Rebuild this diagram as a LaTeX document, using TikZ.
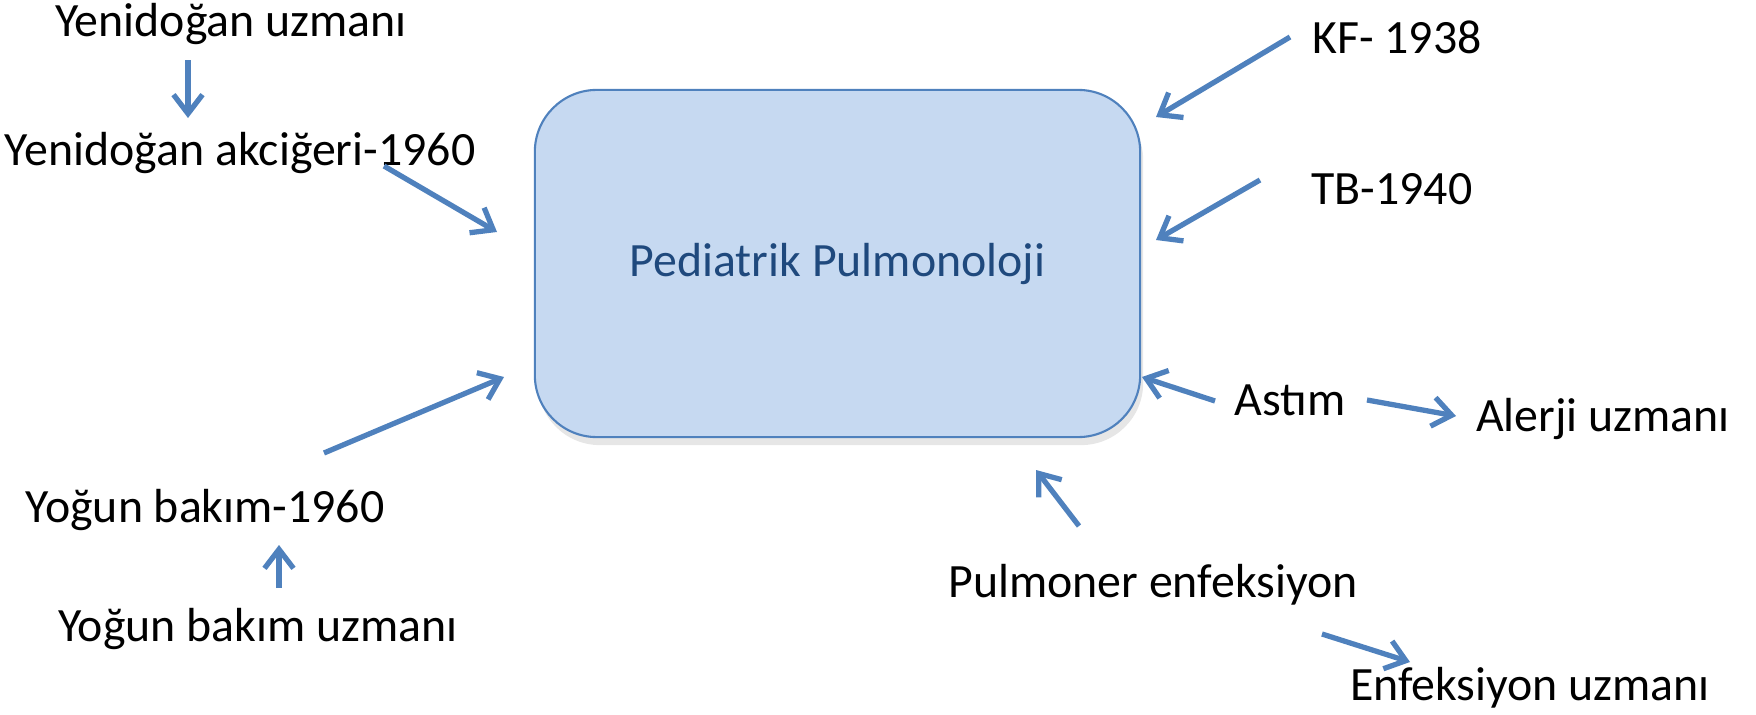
\documentclass[tikz,border=0pt]{standalone}
\usepackage{fontspec}
\setmainfont{Carlito}
\usetikzlibrary{arrows.meta,shadows}

\definecolor{arrowblue}{HTML}{4F81BD}
\definecolor{boxfill}{HTML}{C6D9F1}
\definecolor{boxtext}{HTML}{1F497D}

\begin{document}
\begin{tikzpicture}[x=0.01cm,y=-0.01cm,auto,>={Straight Barb[length=1.9mm,width=2.9mm]}]
\tikzstyle{txt} = [anchor=base, inner sep=0pt, font=\fontsize{13.6}{16}\selectfont]
\tikzstyle{block} = [rectangle, draw=arrowblue, line width=0.6pt, fill=boxfill,
text=boxtext, font=\fontsize{13.6}{16}\selectfont, text height=0.9em, text depth=0.15em,
minimum width=6.05cm, minimum height=3.47cm, rounded corners=0.62cm, inner sep=0pt,
drop shadow={opacity=0.2,shadow xshift=0.3mm,shadow yshift=-0.8mm}]
\tikzstyle{line} = [draw, arrowblue, line width=1.5pt, ->]

\useasboundingbox (0,0) rectangle (1756,715);

% centre
\node [block] (ped) at (837.5,263.5) {Pediatrik Pulmonoloji};
% left side
\node [txt] (yenuz) at (231,37) {Yenidoğan uzmanı};
\node [txt] (yenak) at (240,165) {Yenidoğan akciğeri-1960};
\node [txt] (yogbk) at (205,522) {Yoğun bakım-1960};
\node [txt] (yoguz) at (258,641) {Yoğun bakım uzmanı};
% right side
\node [txt] (kf) at (1397,54) {KF- 1938};
\node [txt] (tb) at (1392,205) {TB-1940};
\node [txt] (astim) at (1290,416) {Astım};
\node [txt] (alerji) at (1603,431) {Alerji uzmanı};
\node [txt] (pulenf) at (1153,597) {Pulmoner enfeksiyon};
\node [txt] (enfuz) at (1530,700) {Enfeksiyon uzmanı};

\tikzstyle{every path}=[line]
\path ([shift={(-43,23)}]yenuz.base) -- ([shift={(-52,-47)}]yenak.base);
\path ([shift={(144,1)}]yenak.base) -- ([shift={(-340.5,-31.5)}]ped.center);
\path ([shift={(119,-69)}]yogbk.base) -- ([shift={(-333.5,113.5)}]ped.center);
\path ([shift={(21,-53)}]yoguz.base) -- ([shift={(74,23)}]yogbk.base);
\path ([shift={(-107,-17)}]kf.base) -- ([shift={(318.5,-146.5)}]ped.center);
\path ([shift={(-132,-25)}]tb.base) -- ([shift={(318.5,-23.5)}]ped.center);
\path ([shift={(-75,-15)}]astim.base) -- ([shift={(304.5,113.5)}]ped.center);
\path ([shift={(77,-16)}]astim.base) -- ([shift={(-147,-15)}]alerji.base);
\path ([shift={(-74,-71)}]pulenf.base) -- ([shift={(198.5,206.5)}]ped.center);
\path ([shift={(169,37)}]pulenf.base) -- ([shift={(-120,-38)}]enfuz.base);
\end{tikzpicture}
\end{document}
